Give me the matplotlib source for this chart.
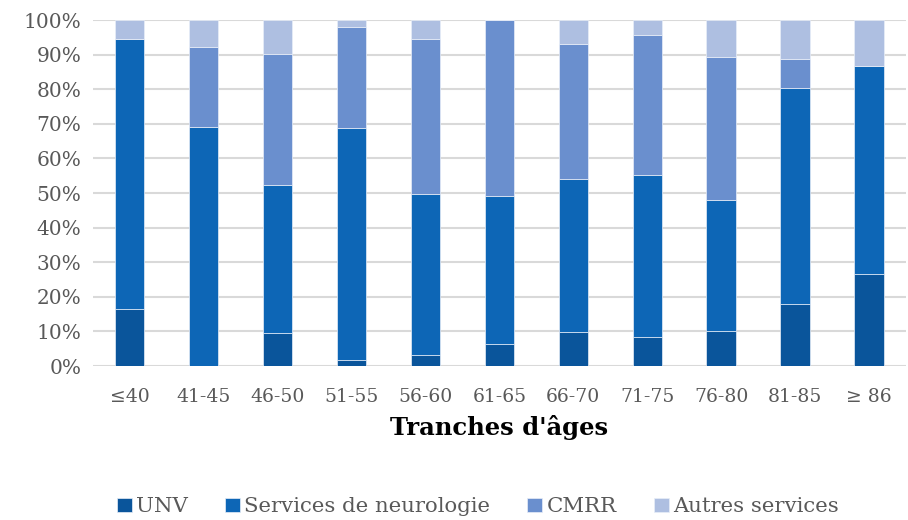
import matplotlib.pyplot as plt
import numpy as np

# tranches d'âges
categories = ['≤40', '41-45', '46-50', '51-55', '56-60', '61-65',
              '66-70', '71-75', '76-80', '81-85', '≥ 86']
# parts en %
unv    = [16.5, 0.0, 9.5, 1.9, 3.2, 6.5, 9.8, 8.3, 10.0, 17.8, 26.5]
neuro  = [78.0, 69.2, 42.8, 66.8, 46.6, 42.7, 44.4, 47.0, 38.1, 62.6, 60.2]
cmrr   = [0.0, 23.0, 38.0, 29.3, 44.7, 50.8, 39.0, 40.5, 41.1, 8.3, 0.0]
autres = [5.5, 7.8, 9.7, 2.0, 5.5, 0.0, 6.8, 4.2, 10.8, 11.3, 13.3]

series = ['UNV', 'Services de neurologie', 'CMRR', 'Autres services']
colors = ['#0A559B', '#0D66B6', '#6A8FCE', '#AEBFE1']

plt.rcParams['font.family'] = ['DejaVu Serif']

fig = plt.figure(figsize=(9.08, 5.2), dpi=100)
ax = fig.add_axes([0.102, 0.296, 0.896, 0.6655])

x = np.arange(len(categories))
bottom = np.zeros(len(categories))
for name, vals, col in zip(series, [unv, neuro, cmrr, autres], colors):
    vals = np.array(vals)
    ax.bar(x, vals, 0.4, bottom=bottom, color=col, label=name,
           edgecolor='#E8EEF8', linewidth=0.5, zorder=3)
    bottom += vals

ax.set_xlim(-0.5, len(categories) - 0.5)
ax.set_ylim(0, 100)
ax.set_yticks(np.arange(0, 101, 10))
ax.set_yticklabels([f'{v}%' for v in range(0, 101, 10)],
                   fontsize=14.5, color='#595959')
ax.set_xticks(x)
ax.set_xticklabels(categories, fontsize=13.5, color='#595959')
ax.tick_params(length=0)
ax.tick_params(axis='x', pad=16)
ax.tick_params(axis='y', pad=8)
ax.grid(axis='y', color='#D9D9D9', linewidth=1.5, zorder=0)
for s in ax.spines.values():
    s.set_visible(False)

ax.set_xlabel("Tranches d'âges", fontsize=17.5, fontweight='bold', labelpad=6)

leg = fig.legend(loc='center', bbox_to_anchor=(0.526, 0.025), ncol=4,
                 frameon=False, handlelength=0.7, handleheight=0.65,
                 handletextpad=0.2, columnspacing=1.75,
                 prop={'size': 15.3})
for t in leg.get_texts():
    t.set_color('#595959')

fig.savefig('out.png', dpi=100)
